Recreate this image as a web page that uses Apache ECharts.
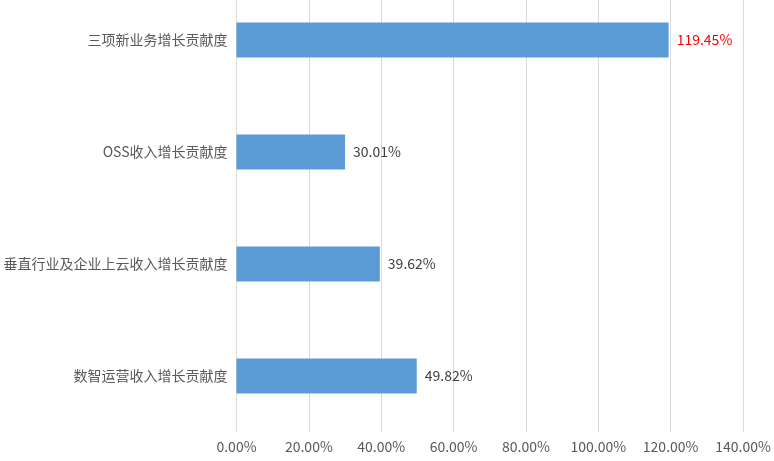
<!DOCTYPE html>
<html>
<head>
<meta charset="UTF-8">
<script src="https://cdn.jsdelivr.net/npm/echarts@6/dist/echarts.min.js"></script>
<style>
  html, body { margin: 0; padding: 0; background: #fff; overflow: hidden; }
  /* plot area starts above the visible top edge, as in the reference */
  #main { width: 774px; height: 477px; margin-top: -16px; }
</style>
</head>
<body>
<div id="main"></div>
<script>
// categories top to bottom
var categories = ['三项新业务增长贡献度', 'OSS收入增长贡献度', '垂直行业及企业上云收入增长贡献度', '数智运营收入增长贡献度'];
var values = [119.45, 30.01, 39.62, 49.82];
var labelColors = ['#ff0000', '#404040', '#404040', '#404040'];

var chart = echarts.init(document.getElementById('main'));
var font = '"Noto Sans CJK SC", "Noto Sans", sans-serif';

var barData = [];
for (var i = 0; i < values.length; i++) {
  barData.push({
    value: values[i],
    label: { color: labelColors[i] }
  });
}

chart.setOption({
  animation: false,
  grid: { left: 236.5, right: 31, top: 0, bottom: 29, containLabel: false },
  xAxis: {
    type: 'value',
    min: 0,
    max: 140,
    interval: 20,
    axisLine: { show: false },
    axisTick: { show: false },
    splitLine: { lineStyle: { color: '#d9d9d9', width: 1 } },
    axisLabel: {
      margin: 8,
      color: '#595959',
      fontSize: 14,
      fontFamily: font,
      formatter: function (v) { return v.toFixed(2) + '%'; }
    }
  },
  yAxis: {
    type: 'category',
    inverse: true,
    data: categories,
    axisLine: { show: false },
    axisTick: { show: false },
    axisLabel: { margin: 9, color: '#595959', fontSize: 14, fontFamily: font }
  },
  series: [{
    type: 'bar',
    data: barData,
    barWidth: 35,
    itemStyle: { color: '#5b9bd5' },
    label: {
      show: true,
      position: 'right',
      distance: 8,
      fontSize: 14,
      fontFamily: font,
      formatter: function (p) { return p.value.toFixed(2) + '%'; }
    }
  }]
});
</script>
</body>
</html>
